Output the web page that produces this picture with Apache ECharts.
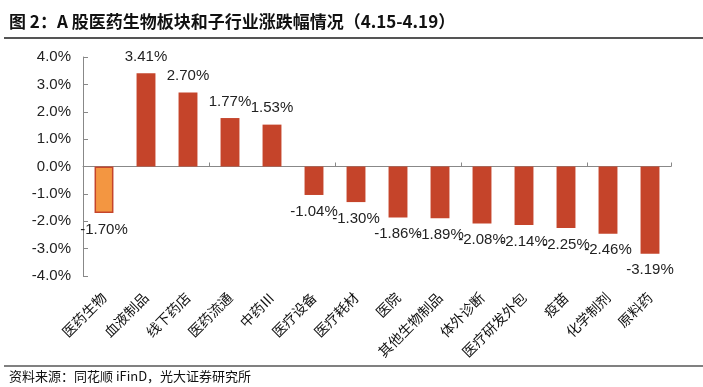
<!DOCTYPE html>
<html>
<head>
<meta charset="utf-8">
<script src="https://cdn.jsdelivr.net/npm/echarts@6/dist/echarts.min.js"></script>
<style>
html,body{margin:0;padding:0;background:#fff;}
#c{width:703px;height:387px;}
</style>
</head>
<body>
<div id="c"></div>
<script>
const categories = ['医药生物','血液制品','线下药店','医药流通','中药Ⅲ','医疗设备','医疗耗材','医院','其他生物制品','体外诊断','医疗研发外包','疫苗','化学制剂','原料药'];
const values = [-1.70, 3.41, 2.70, 1.77, 1.53, -1.04, -1.30, -1.86, -1.89, -2.08, -2.14, -2.25, -2.46, -3.19];
const yTicks = { min: -4, max: 4, interval: 1 };
const titleText = '图 2：A 股医药生物板块和子行业涨跌幅情况（4.15-4.19）';
const sourceText = '资料来源：同花顺 iFinD，光大证券研究所';

const RED = '#C5442A';
const ORANGE = '#F39641';

const barData = values.map((v, i) => ({
  value: v,
  itemStyle: i === 0 ? { color: ORANGE, borderColor: RED, borderWidth: 1.5 } : { color: RED },
  label: { position: v < 0 ? 'bottom' : 'top' }
}));

const chart = echarts.init(document.getElementById('c'), null, { renderer: 'canvas' });
chart.setOption({
  animation: false,
  backgroundColor: '#fff',
  title: [
    { text: titleText, left: 4, top: 8,
      textStyle: { fontFamily: 'Noto Sans CJK SC', fontSize: 17, fontWeight: 'bold', color: '#111' } },
    { text: sourceText, left: 4, top: 365,
      textStyle: { fontFamily: 'Noto Sans CJK SC', fontSize: 13, fontWeight: 'normal', color: '#111' } }
  ],
  graphic: [
    { type: 'line', shape: { x1: 4, y1: 38, x2: 703, y2: 38 }, style: { stroke: '#555', lineWidth: 2 } },
    { type: 'line', shape: { x1: 4, y1: 366, x2: 703, y2: 366 }, style: { stroke: '#808080', lineWidth: 2 } }
  ],
  grid: { left: 83, right: 32, top: 57, bottom: 111, containLabel: false },
  xAxis: [
    { type: 'category', data: categories,
      axisLine: { onZero: true, lineStyle: { color: '#888', width: 1 } },
      axisTick: { show: true, inside: true, length: 4, alignWithLabel: false, lineStyle: { color: '#888' } },
      axisLabel: { show: false } },
    { type: 'category', data: categories, position: 'bottom',
      axisLine: { show: false }, axisTick: { show: false },
      axisLabel: { interval: 0, rotate: 45, margin: 19, fontFamily: 'Noto Sans CJK SC', fontSize: 14, color: '#111' } }
  ],
  yAxis: {
    type: 'value', min: yTicks.min, max: yTicks.max, interval: yTicks.interval,
    axisLine: { show: true, lineStyle: { color: '#888', width: 1 } },
    axisTick: { show: true, inside: true, length: 5, lineStyle: { color: '#888' } },
    splitLine: { show: false },
    axisLabel: { margin: 12, fontFamily: 'Liberation Sans', fontSize: 15, color: '#222',
      formatter: v => v.toFixed(1) + '%' }
  },
  series: [{
    type: 'bar', xAxisIndex: 0, data: barData, barWidth: '45%',
    label: { show: true, distance: 9, fontFamily: 'Liberation Sans', fontSize: 15, color: '#222',
      formatter: p => p.value.toFixed(2) + '%' }
  }]
});
</script>
</body>
</html>
